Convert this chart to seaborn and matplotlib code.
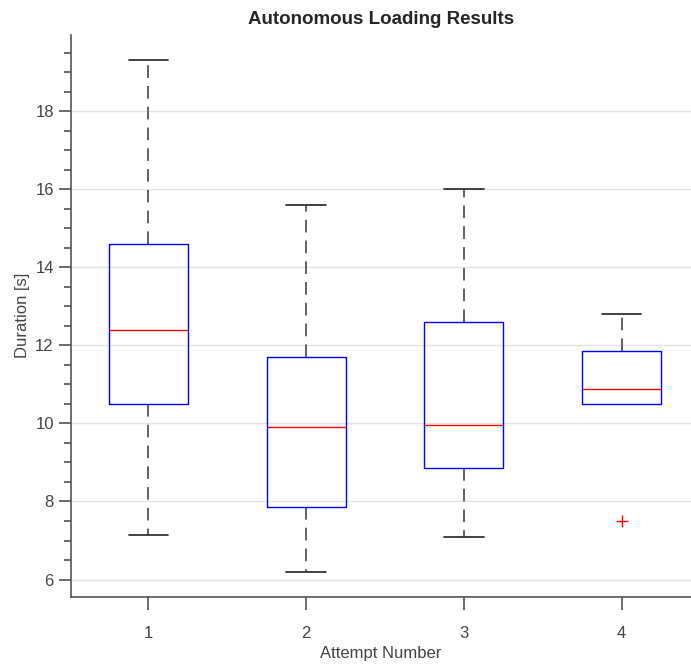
import numpy as np
import pandas as pd
import matplotlib.pyplot as plt
import seaborn as sns
from matplotlib.ticker import MultipleLocator

# Five-number summary per attempt (4th has an outlier)
attempts = ['1', '2', '3', '4']
low_vals = [7.15, 6.2, 7.1, 7.5]
q1_vals = [10.5, 7.87, 8.86, 10.5]
median_vals = [12.4, 9.9, 9.95, 10.88]
q3_vals = [14.6, 11.7, 12.6, 11.86]
high_vals = [19.3, 15.6, 16.0, 12.8]

rows = []
for i, a in enumerate(attempts):
    for v in [low_vals[i], q1_vals[i], median_vals[i], q3_vals[i], high_vals[i]]:
        rows.append({'Attempt': a, 'Duration': v})
df = pd.DataFrame(rows)

sns.set_theme(style='white')
plt.rcParams['font.family'] = ['Liberation Sans', 'DejaVu Sans']

fig = plt.figure(figsize=(6.91, 6.72), dpi=100)
ax = fig.add_axes([0.103, 0.112, 0.897, 0.836])

sns.boxplot(data=df, x='Attempt', y='Duration', ax=ax, whis=1.5, width=0.5,
            fill=False, linewidth=1.0,
            boxprops=dict(color='blue', linewidth=1.0, zorder=4),
            medianprops=dict(color='red', linewidth=1.0, zorder=5),
            whiskerprops=dict(color='#555555', linestyle=(0, (7, 4.5)), linewidth=1.3, zorder=2),
            capprops=dict(color='#222222', linewidth=1.2, zorder=2),
            flierprops=dict(marker='+', markeredgecolor='red', markersize=8,
                            markeredgewidth=1.0))

# whisker of length zero (attempt 4, lower side): no cap shown, like the original
for line in ax.lines:
    y = np.asarray(line.get_ydata(), dtype=float)
    if len(y) == 2 and np.allclose(y, q1_vals[3]):
        line.set_visible(False)

ax.set_xlim(-0.49, 3.44)
ax.set_ylim(5.56, 19.95)
ax.yaxis.set_major_locator(MultipleLocator(2))
ax.yaxis.set_minor_locator(MultipleLocator(0.5))
ax.yaxis.grid(True, which='major', color='#e3e3e3', linewidth=1.0)
ax.set_axisbelow(True)

for side in ['top', 'right']:
    ax.spines[side].set_visible(False)
for side in ['left', 'bottom']:
    ax.spines[side].set_color('#555555')
    ax.spines[side].set_linewidth(1.2)

ax.tick_params(axis='y', which='major', direction='out', length=9, width=1.2,
               color='#555555', labelcolor='#444444', labelsize=12, left=True)
ax.tick_params(axis='y', which='minor', direction='out', length=5, width=1.2,
               color='#555555', left=True)
ax.tick_params(axis='x', which='major', direction='out', length=9, width=1.2,
               color='#555555', labelcolor='#444444', labelsize=12, bottom=True, pad=12)

ax.set_title('Autonomous Loading Results', fontsize=13.5, fontweight='bold', pad=8)
ax.set_xlabel('Attempt Number', fontsize=12, color='#444444')
ax.set_ylabel('Duration [s]', fontsize=12, color='#444444')

plt.savefig('out.png', dpi=100)
